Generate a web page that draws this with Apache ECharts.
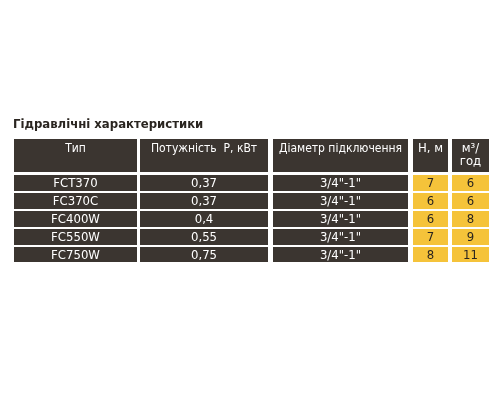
<!DOCTYPE html><html><head><meta charset="utf-8"><script src="https://cdn.jsdelivr.net/npm/echarts@6/dist/echarts.min.js"></script></head><body style="margin:0"><div id="c" style="width:500px;height:400px"></div><script>
const headers=['Тип','Потужність  P, кВт','Діаметр підключення','H, м','м³/\nгод'];
const models=['FCT370','FC370C','FC400W','FC550W','FC750W'];
const power=['0,37','0,37','0,4','0,55','0,75'];
const diameter=['3/4"-1"','3/4"-1"','3/4"-1"','3/4"-1"','3/4"-1"'];
const head=[7,6,6,7,8];
const flow=[6,6,8,9,11];
const colX=[[14,137],[140,268],[273,408],[413,448],[452,489]];
const rowY=[[175,191],[193,209],[211,227],[229,245],[247,262]];
const headY=[139,172];
const cells=[];
headers.forEach((h,i)=>cells.push([i,-1,h]));
models.forEach((m,r)=>{[m,power[r],diameter[r],String(head[r]),String(flow[r])].forEach((v,i)=>cells.push([i,r,v]));});
const ch=echarts.init(document.getElementById('c'));
ch.setOption({animation:false,backgroundColor:'#fff',
title:{text:'Гідравлічні характеристики',left:8,top:113,textStyle:{fontFamily:'DejaVu Sans Condensed',fontSize:13,fontWeight:'bold',color:'#2a2520'}},
grid:{left:0,right:0,top:0,bottom:0},
xAxis:{type:'value',min:0,max:500,show:false},
yAxis:{type:'value',min:0,max:400,inverse:true,show:false},
series:[{type:'custom',data:cells,renderItem:(p,api)=>{
 const c=api.value(0),r=api.value(1),t=cells[p.dataIndex][2];
 const ys=r<0?headY:rowY[r];
 const a=api.coord([colX[c][0],ys[0]]),b=api.coord([colX[c][1],ys[1]]);
 const yellow=r>=0&&c>=3;
 const fs=r<0?(c>=3?13:12):13;
 const ty=r<0?(c===4?(a[1]+b[1])/2:a[1]+10):(a[1]+b[1])/2+1;
 return {type:'group',children:[
  {type:'rect',shape:{x:a[0],y:a[1],width:b[0]-a[0],height:b[1]-a[1]},style:{fill:yellow?'#f5c33a':'#3b3530'}},
  {type:'text',style:{text:t,x:(a[0]+b[0])/2,y:ty,align:'center',verticalAlign:'middle',fill:yellow?'#2a2520':'#fff',font:fs+'px "DejaVu Sans Condensed", sans-serif',lineHeight:13}}]};
}}]});
</script></body></html>
